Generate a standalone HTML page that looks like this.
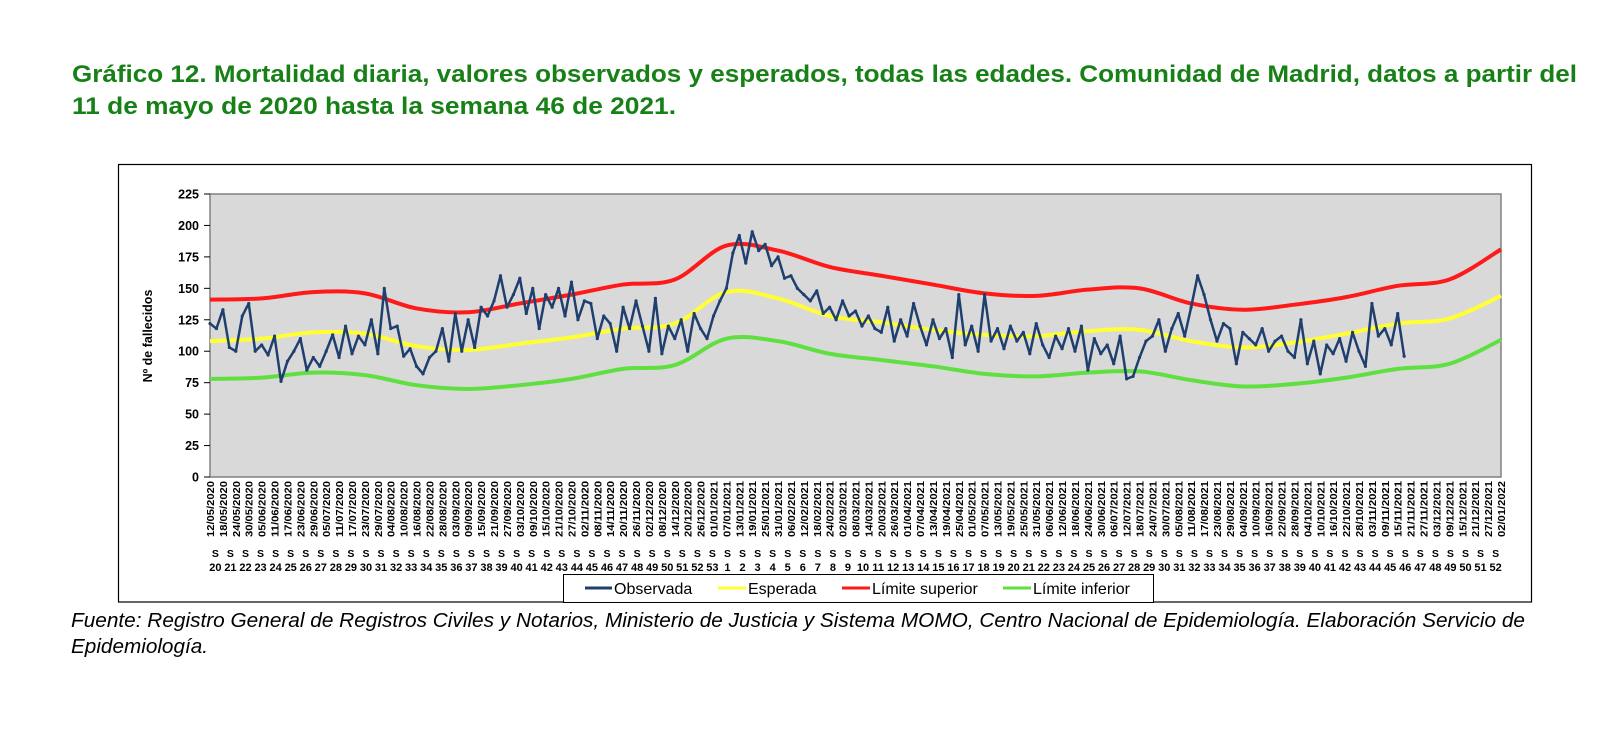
<!DOCTYPE html>
<html><head><meta charset="utf-8">
<style>
html,body{margin:0;padding:0;background:#fff;}
svg{display:block;font-family:"Liberation Sans",Arial,sans-serif;}
</style></head>
<body>
<svg id="chart" width="1600" height="731" viewBox="0 0 1600 731" xmlns="http://www.w3.org/2000/svg">
<text x="72" y="82" font-size="24" font-weight="bold" fill="#178117" textLength="1505" lengthAdjust="spacingAndGlyphs">Gráfico 12. Mortalidad diaria, valores observados y esperados, todas las edades. Comunidad de Madrid, datos a partir del</text>
<text x="72" y="114" font-size="24" font-weight="bold" fill="#178117" textLength="604" lengthAdjust="spacingAndGlyphs">11 de mayo de 2020 hasta la semana 46 de 2021.</text>
<rect x="118.5" y="164.5" width="1413" height="437.5" fill="#fff" stroke="#000" stroke-width="1.2"/>
<rect x="210" y="194" width="1291" height="283" fill="#d9d9d9" stroke="#808080" stroke-width="1.5"/>
<g id="yaxis"></g>
<text transform="translate(152,336) rotate(-90)" text-anchor="middle" font-size="12.5" font-weight="bold">Nº de fallecidos</text>
<g id="xaxis"></g>
<g id="weeks"></g>
<g id="series"></g>
<g>
<rect x="563.5" y="574.5" width="590" height="28" fill="#fff" stroke="#000" stroke-width="1"/>
<g>
<line x1="585" y1="588" x2="612" y2="588" stroke="#1f3f6e" stroke-width="3"/>
<text x="614" y="594" font-size="16">Observada</text></g>
<g>
<line x1="718" y1="588" x2="746" y2="588" stroke="#ffff33" stroke-width="3"/>
<text x="748" y="594" font-size="16">Esperada</text></g>
<g>
<line x1="842" y1="588" x2="870" y2="588" stroke="#ff1a1a" stroke-width="3"/>
<text x="872" y="594" font-size="16">Límite superior</text></g>
<g>
<line x1="1003" y1="588" x2="1031" y2="588" stroke="#5fe040" stroke-width="3"/>
<text x="1033" y="594" font-size="16">Límite inferior</text></g>
</g>
<text x="71" y="627" font-size="20" font-style="italic" textLength="1454" lengthAdjust="spacingAndGlyphs">Fuente: Registro General de Registros Civiles y Notarios, Ministerio de Justicia y Sistema MOMO, Centro Nacional de Epidemiología. Elaboración Servicio de</text>
<text x="71" y="653" font-size="20" font-style="italic" textLength="137" lengthAdjust="spacingAndGlyphs">Epidemiología.</text>
</svg>
<script>
const yTicks = [0,25,50,75,100,125,150,175,200,225];
const refDays = [0,24,48,72,96,120,144,168,192,216,240,264,288,312,336,360,384,408,432,456,480,504,528,552,576,600];
const expected = [108,110,115,114,104,101,106,111,118,122,147,142,128,123,117,113,112,116,117,108,103,107,114,122,126,144];
const upperLimit = [141,142,147,146,134,131,138,145,153,157,184,180,167,160,153,146,144,149,150,138,133,137,143,152,157,181];
const lowerLimit = [78,79,83,81,73,70,73,78,86,89,110,108,98,93,88,82,80,83,84,77,72,74,79,86,90,109];
const obsStep = 3;
const observed = [122,118,133,103,100,128,138,100,105,97,112,76,92,100,110,85,95,
88,100,113,95,120,98,112,105,125,98,150,118,120,96,102,88,82,
95,100,118,92,130,100,125,103,135,128,140,160,135,145,158,130,150,
118,145,135,150,128,155,125,140,138,110,128,122,100,135,118,140,120,
100,142,98,120,110,125,100,130,118,110,128,
140,150,178,192,170,195,180,185,168,175,158,160,150,145,140,148,130,135,125,140,128,132,
120,128,118,115,135,108,125,112,138,120,105,125,110,118,95,145,105,120,100,145,108,118,102,120,
108,115,98,122,105,95,112,102,118,100,120,85,110,98,105,90,112,
78,80,95,108,112,125,100,118,130,112,135,160,145,125,108,122,118,90,115,110,105,118,100,108,112,
100,95,125,90,108,82,105,98,110,92,115,100,88,138,112,118,105,130,96];
const startDate = [2020,5,12];
const totalDays = 600;
const labelStepDays = 6;
const firstWeek = 20, weeksIn2020 = 53, weeksIn2021 = 52;

const NS="http://www.w3.org/2000/svg";
const X0=210, X1=1501, Y0=477, Y1=194;
const xs = d => X0 + d*(X1-X0)/totalDays;
const ys = v => Y0 - v*(Y0-Y1)/225;
function mk(tag, attrs, parent){const e=document.createElementNS(NS,tag);for(const k in attrs)e.setAttribute(k,attrs[k]);parent.appendChild(e);return e;}

const ya=document.getElementById('yaxis');
yTicks.forEach(t=>{
  const l=mk('line',{x1:204,x2:210,y1:ys(t),y2:ys(t),stroke:'#000'},ya);
  
  
  const tx=mk('text',{x:199,y:ys(t)+4.5,'text-anchor':'end','font-size':12.5,'font-weight':'bold'},ya);
  tx.textContent=t;
  
  
});

const xa=document.getElementById('xaxis');
const sd=new Date(Date.UTC(startDate[0],startDate[1]-1,startDate[2]));
for(let d=0; d<=totalDays; d+=labelStepDays){
  const dt=new Date(sd.getTime()+d*86400000);
  const s=String(dt.getUTCDate()).padStart(2,'0')+'/'+String(dt.getUTCMonth()+1).padStart(2,'0')+'/'+dt.getUTCFullYear();
  const x=xs(d)+4;
  const tx=mk('text',{transform:`translate(${x},481) rotate(-90)`,'text-anchor':'end','font-size':10.5,'font-weight':'bold',textLength:56,lengthAdjust:'spacingAndGlyphs'},xa);
  tx.textContent=s;
  
  
}

const wk=document.getElementById('weeks');
const weekNums=[];
for(let w=firstWeek; w<=weeksIn2020; w++) weekNums.push(w);
for(let w=1; w<=weeksIn2021; w++) weekNums.push(w);
weekNums.forEach((w,k)=>{
  const x=xs(-1+7*k+3.5);
  const s=mk('text',{x:x,y:557,'text-anchor':'middle','font-size':10.5,'font-weight':'bold'},wk);
  s.textContent='S';
  
  
  const n=mk('text',{x:x,y:571,'text-anchor':'middle','font-size':11,'font-weight':'bold'},wk);
  n.textContent=w;
  
  
});

function smoothPath(days, vals){
  const p=days.map((d,i)=>[xs(d),ys(vals[i])]);
  let s=`M${p[0][0]},${p[0][1]}`;
  for(let i=0;i<p.length-1;i++){
    const a=p[Math.max(0,i-1)], b=p[i], c=p[i+1], e=p[Math.min(p.length-1,i+2)];
    const c1=[b[0]+(c[0]-a[0])/6, b[1]+(c[1]-a[1])/6];
    const c2=[c[0]-(e[0]-b[0])/6, c[1]-(e[1]-b[1])/6];
    s+=` C${c1[0]},${c1[1]} ${c2[0]},${c2[1]} ${c[0]},${c[1]}`;
  }
  return s;
}
const sg=document.getElementById('series');
const lo=mk('path',{d:smoothPath(refDays,lowerLimit),fill:'none',stroke:'#5fe040','stroke-width':4},sg);


const ex=mk('path',{d:smoothPath(refDays,expected),fill:'none',stroke:'#ffff33','stroke-width':4},sg);


const up=mk('path',{d:smoothPath(refDays,upperLimit),fill:'none',stroke:'#ff1a1a','stroke-width':4},sg);


const pts=observed.map((v,i)=>`${xs(i*obsStep)},${ys(v)}`).join(' ');
const ob=mk('polyline',{points:pts,fill:'none',stroke:'#1f3f6e','stroke-width':2.5,'stroke-linejoin':'round'},sg);


observed.forEach((v,i)=>{
  const c=mk('circle',{cx:xs(i*obsStep),cy:ys(v),r:1.6,fill:'#1f3f6e'},sg);
  
  
});
</script>
</body></html>
